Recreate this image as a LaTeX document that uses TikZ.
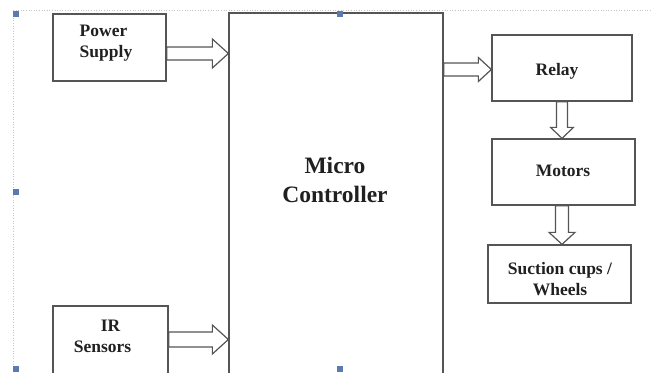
\documentclass[tikz,border=0pt]{standalone}
\usepackage{fontspec}
\setmainfont{Liberation Serif}
\usetikzlibrary{calc}
\definecolor{edge}{HTML}{555555}
\definecolor{ink}{HTML}{202020}
\definecolor{handle}{HTML}{5A7BB0}
\tikzset{
  box/.style={draw=edge, line width=1.3pt, fill=white, rectangle, inner sep=0pt},
  lbl/.style={text=ink, font=\bfseries\fontsize{17.5}{21}\selectfont, inner sep=0pt},
  biglbl/.style={text=ink, font=\bfseries\fontsize{23.5}{29}\selectfont, inner sep=0pt, align=center},
  blk/.style={draw=edge, line width=1.2pt, fill=white, line join=miter},
  hdl/.style={fill=handle, draw=none, minimum size=6pt, inner sep=0pt, rectangle},
  frame/.style={draw=gray!45, line width=0.6pt, dotted}
}
% horizontal block arrow: start coord, tip coord, shaft half, head half, head length
\newcommand\harrow[5]{%
  \draw[blk] ($(#1)+(0,-#3)$) -- ($(#2)+(-#5,-#3)$) -- ($(#2)+(-#5,-#4)$) -- (#2)
     -- ($(#2)+(-#5,#4)$) -- ($(#2)+(-#5,#3)$) -- ($(#1)+(0,#3)$) -- cycle;}
% vertical block arrow (down): start coord, tip coord, shaft half, head half, head length
\newcommand\varrow[5]{%
  \draw[blk] ($(#1)+(-#3,0)$) -- ($(#2)+(-#3,-#5)$) -- ($(#2)+(-#4,-#5)$) -- (#2)
     -- ($(#2)+(#4,-#5)$) -- ($(#2)+(#3,-#5)$) -- ($(#1)+(#3,0)$) -- cycle;}
\begin{document}
\begin{tikzpicture}[x=1pt,y=1pt,yscale=-1]
\useasboundingbox (0,0) rectangle (652,372);
\clip (0,0) rectangle (652,372);
\fill[white] (0,0) rectangle (652,372);
% selection frame
\draw[frame] (13,10) -- (652,10);
\draw[frame] (13,10) -- (13,372);
% boxes
\node[box, minimum width=113pt, minimum height=67pt] (ps) at (109.5,47.5) {};
\node[box, minimum width=214pt, minimum height=407pt] (mc) at (336,216.5) {};
\node[box, minimum width=115pt, minimum height=114pt] (ir) at (110.5,363) {};
\node[box, minimum width=140pt, minimum height=66pt] (relay) at (562,68) {};
\node[box, minimum width=143pt, minimum height=66pt] (motors) at (563.5,172) {};
\node[box, minimum width=143pt, minimum height=58pt] (suction) at (559.5,274) {};
% labels
\node[lbl, align=left] (pst) at (106,43) {Power\\Supply};
\node[lbl, align=left] (irt) at (102.5,336) {\hspace*{27pt}IR\\Sensors};
\node[biglbl] (mct) at (335,180) {Micro\\Controller};
\node[lbl] (relayt) at (557,71) {Relay};
\node[lbl] (motorst) at (563,171) {Motors};
\node[lbl, align=center] (suctiont) at (560,279) {Suction cups /\\Wheels};
% arrows
\coordinate (a1s) at ($(ps.east)+(0,6)$);
\coordinate (a1t) at (mc.west |- a1s);
\harrow{a1s}{a1t}{6.5}{14.5}{16}
\coordinate (a2s) at (ir.east |- 0,339.5);
\coordinate (a2t) at (mc.west |- a2s);
\harrow{a2s}{a2t}{7.5}{14.5}{16}
\coordinate (a3s) at (mc.east |- 0,69.5);
\coordinate (a3t) at (relay.west |- a3s);
\harrow{a3s}{a3t}{6.5}{12}{13}
\coordinate (a4s) at (relay.south);
\coordinate (a4t) at (motors.north -| a4s);
\varrow{a4s}{a4t}{5.5}{11.5}{11}
\coordinate (a5s) at (motors.south -| relay.south);
\coordinate (a5t) at (suction.north -| a5s);
\varrow{a5s}{a5t}{6.5}{13}{12}
% selection handles
\node[hdl] (h1) at (16,14) {};
\node[hdl] (h2) at (340,14) {};
\node[hdl] (h3) at (16,192) {};
\node[hdl] (h4) at (16,369) {};
\node[hdl] (h5) at (340,369) {};
\end{tikzpicture}
\end{document}
